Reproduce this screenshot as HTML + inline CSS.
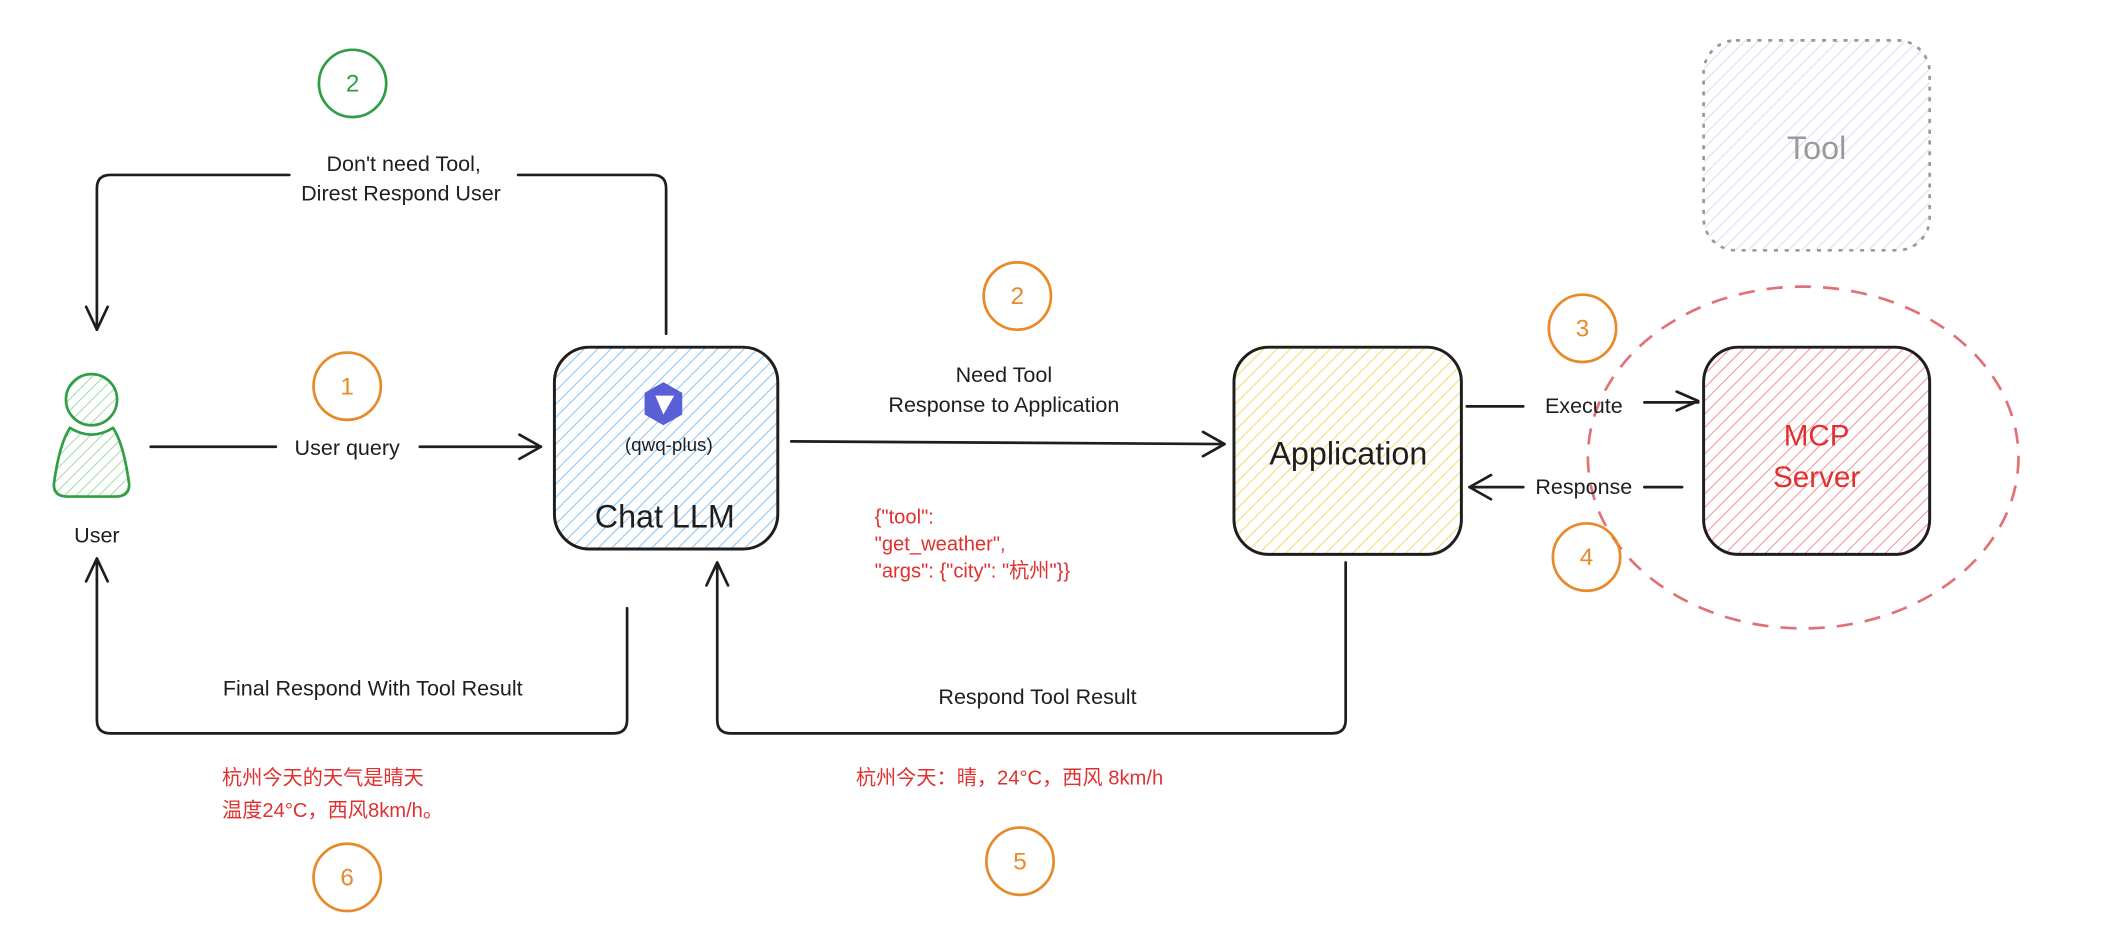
<!DOCTYPE html>
<html><head><meta charset="utf-8"><style>
html,body{margin:0;padding:0;background:#fff;}
svg{display:block;}
text{font-family:"Liberation Sans","Noto Sans CJK SC",sans-serif;}
</style></head><body>
<svg width="2110" height="932" viewBox="0 0 1568 692.6" xmlns="http://www.w3.org/2000/svg">
<defs>
<pattern id="hb" width="7" height="7" patternUnits="userSpaceOnUse" patternTransform="rotate(45)"><line x1="0" y1="0" x2="0" y2="7" stroke="#8cc4f2" stroke-width="1.5"/></pattern>
<pattern id="hy" width="7" height="7" patternUnits="userSpaceOnUse" patternTransform="rotate(45)"><line x1="0" y1="0" x2="0" y2="7" stroke="#f8d76a" stroke-width="1.5"/></pattern>
<pattern id="hr" width="7" height="7" patternUnits="userSpaceOnUse" patternTransform="rotate(45)"><line x1="0" y1="0" x2="0" y2="7" stroke="#f39096" stroke-width="1.5"/></pattern>
<pattern id="hp" width="7" height="7" patternUnits="userSpaceOnUse" patternTransform="rotate(45)"><line x1="0" y1="0" x2="0" y2="7" stroke="#dcd8ef" stroke-width="1.5"/></pattern>
<pattern id="hg" width="6" height="6" patternUnits="userSpaceOnUse" patternTransform="rotate(45)"><line x1="0" y1="0" x2="0" y2="6" stroke="#9ed9a1" stroke-width="1.4"/></pattern>
</defs>
<g fill="none" stroke="#1e1e1e" stroke-width="2" stroke-linecap="round" stroke-linejoin="round">
<path d="M495 248 V140 Q495 130 485 130 H385 M215 130 H82 Q72 130 72 140 V245"/>
<path d="M64 228 L72 245 L80 228"/>
<path d="M112 332 H205 M312 332 H402 M386 323 L402 332 L386 341"/>
<path d="M588 328 L910 330 M894 321 L910 330 L894 339"/>
<path d="M1090 302 H1132 M1222 299 H1262 M1246 291 L1262 298 L1246 305"/>
<path d="M1250 362 H1222 M1132 362 H1092 M1108 353 L1092 362 L1108 371"/>
<path d="M466 452 V535 Q466 545 456 545 H82 Q72 545 72 535 V415 M64 432 L72 415 L80 432"/>
<path d="M1000 418 V535 Q1000 545 990 545 H543 Q533 545 533 535 V418 M525 435 L533 418 L541 435"/>
</g>
<rect x="412" y="258" width="166" height="150" rx="26" fill="url(#hb)" stroke="#1e1e1e" stroke-width="2.2"/>
<rect x="917" y="258" width="169" height="154" rx="26" fill="url(#hy)" stroke="#1e1e1e" stroke-width="2.2"/>
<rect x="1266" y="258" width="168" height="154" rx="26" fill="url(#hr)" stroke="#1e1e1e" stroke-width="2.2"/>
<rect x="1266" y="30" width="168" height="156" rx="24" fill="url(#hp)" stroke="#999" stroke-width="2" stroke-dasharray="3 5"/>
<ellipse cx="1340" cy="340" rx="160" ry="127" fill="none" stroke="#e07277" stroke-width="2" stroke-dasharray="12 9"/>
<circle cx="68" cy="297" r="19" fill="url(#hg)" stroke="#2f9e44" stroke-width="2"/>
<path d="M52 318 Q68 328 84 318 Q92 330 96 360 Q96 369 86 369 H50 Q40 369 40 360 Q44 330 52 318 Z" fill="url(#hg)" stroke="#2f9e44" stroke-width="2"/>
<g transform="translate(493,300)">
<polygon points="0,-16 14,-8 14,8 0,16 -14,8 -14,-8" fill="#5b5fd6"/>
<polygon points="-6,-6 8,-6 0,8" fill="#fff"/>
</g>
<g fill="none" stroke-width="2">
<circle cx="262" cy="62" r="25" stroke="#2f9e44"/>
<circle cx="258" cy="287" r="25" stroke="#e8892a"/>
<circle cx="756" cy="220" r="25" stroke="#e8892a"/>
<circle cx="1176" cy="244" r="25" stroke="#e8892a"/>
<circle cx="1179" cy="414" r="25" stroke="#e8892a"/>
<circle cx="758" cy="640" r="25" stroke="#e8892a"/>
<circle cx="258" cy="652" r="25" stroke="#e8892a"/>
</g>
<g font-size="18" text-anchor="middle">
<text x="262" y="68" fill="#2f9e44">2</text>
<text x="258" y="293" fill="#e8892a">1</text>
<text x="756" y="226" fill="#e8892a">2</text>
<text x="1176" y="250" fill="#e8892a">3</text>
<text x="1179" y="420" fill="#e8892a">4</text>
<text x="758" y="646" fill="#e8892a">5</text>
<text x="258" y="658" fill="#e8892a">6</text>
</g>
<g font-size="16" fill="#1e1e1e" text-anchor="middle">
<text x="300" y="127">Don't need Tool,</text>
<text x="298" y="149">Direst Respond User</text>
<text x="72" y="403">User</text>
<text x="258" y="338">User query</text>
<text x="746" y="284">Need Tool</text>
<text x="746" y="306">Response to Application</text>
<text x="1177" y="307">Execute</text>
<text x="1177" y="367">Response</text>
<text x="277" y="517">Final Respond With Tool Result</text>
<text x="771" y="523">Respond Tool Result</text>
<text x="497" y="335" font-size="14">(qwq-plus)</text>
<text x="494" y="392" font-size="24">Chat LLM</text>
<text x="1002" y="345" font-size="24">Application</text>
<text x="1350" y="118" font-size="24" fill="#9a9a9a">Tool</text>
<text x="1350" y="331" font-size="22" fill="#e03131">MCP</text>
<text x="1350" y="362" font-size="22" fill="#e03131">Server</text>
</g>
<g font-size="15" fill="#e03131">
<text x="650" y="389">{"tool":</text>
<text x="650" y="409">"get_weather",</text>
<text x="650" y="429">"args": {"city": "杭州"}}</text>
<text x="165" y="583">杭州今天的天气是晴天</text>
<text x="165" y="607">温度24°C，西风8km/h。</text>
<text x="636" y="583">杭州今天：晴，24°C，西风 8km/h</text>
</g>
</svg>
</body></html>
